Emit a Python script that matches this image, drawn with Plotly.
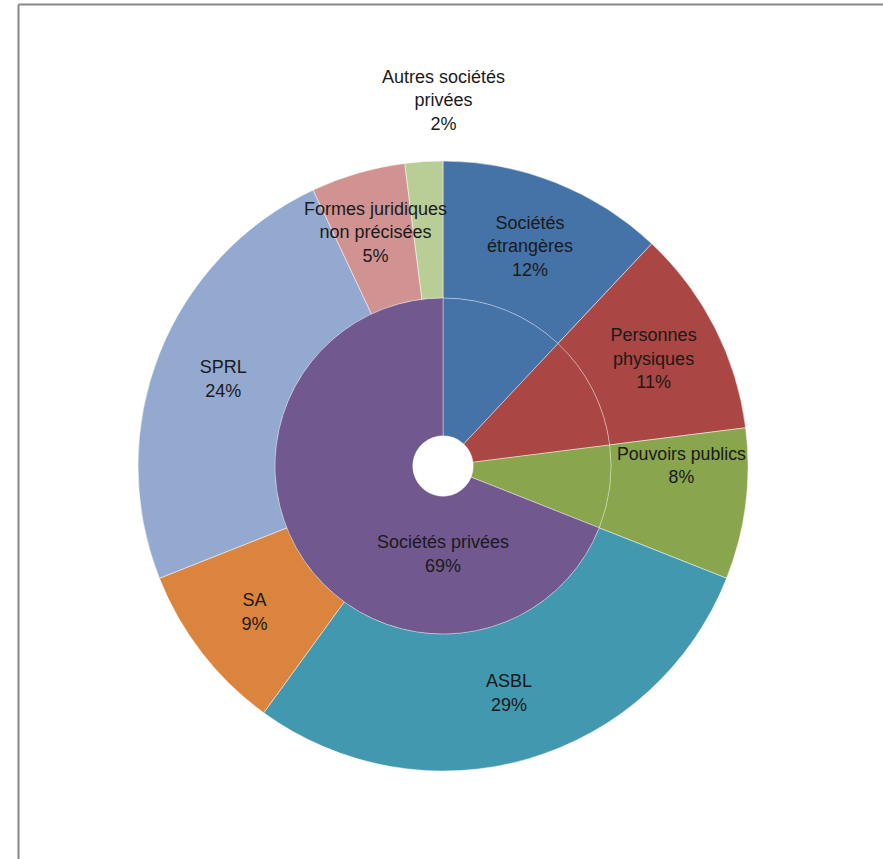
import plotly.graph_objects as go

# Inner ring
inner_labels = ["Sociétés étrangères", "Personnes physiques", "Pouvoirs publics", "Sociétés privées"]
inner_values = [12, 11, 8, 69]
inner_colors = ["#4572A7", "#AA4643", "#89A54E", "#71588F"]

# Outer ring
outer_labels = ["Sociétés étrangères", "Personnes physiques", "Pouvoirs publics", "ASBL", "SA", "SPRL",
                "Formes juridiques non précisées", "Autres sociétés privées"]
outer_display = ["Sociétés<br>étrangères", "Personnes<br>physiques", "Pouvoirs publics", "ASBL", "SA", "SPRL",
                 "Formes juridiques<br>non précisées", "Autres sociétés<br>privées"]
outer_values = [12, 11, 8, 29, 9, 24, 5, 2]
outer_colors = ["#4572A7", "#AA4643", "#89A54E", "#4198AF", "#DB843D", "#93A9CF", "#D19392", "#B9CD96"]

FONT = "Liberation Sans"
FS = 18
TXT = "#1a1a1a"

W, H = 883, 859
cx, cy = 443, 466
R = 305
r_in = 168

def dom(r):
    return dict(x=[(cx - r) / W, (cx + r) / W], y=[1 - (cy + r) / H, 1 - (cy - r) / H])

outer_tmpl = ["%{text}<br>%{percent:.0%}"] * 6 + ["", ""]

fig = go.Figure()
fig.add_trace(go.Pie(
    labels=outer_labels, values=outer_values, text=outer_display,
    texttemplate=outer_tmpl, textinfo="text+percent",
    textposition="inside", insidetextorientation="horizontal",
    sort=False, direction="clockwise", rotation=0, hole=0.55,
    marker=dict(colors=outer_colors, line=dict(color="rgba(255,255,255,0.6)", width=0.8)),
    textfont=dict(family=FONT, size=FS, color=TXT),
    domain=dom(R), showlegend=False, hoverinfo="label+percent",
))
inner_tmpl = ["", "", "", "%{label}<br>%{percent:.0%}"]
fig.add_trace(go.Pie(
    labels=inner_labels, values=inner_values,
    texttemplate=inner_tmpl, textposition="inside", insidetextorientation="horizontal",
    sort=False, direction="clockwise", rotation=0, hole=0.18,
    marker=dict(colors=inner_colors, line=dict(color="rgba(255,255,255,0.5)", width=0.8)),
    textfont=dict(family=FONT, size=FS, color=TXT),
    domain=dom(r_in), showlegend=False, hoverinfo="label+percent",
))

total = sum(outer_values)
annos = []
for idx, (xp, yp) in zip([6, 7], [(375, 232), (443, 101)]):
    annos.append(dict(
        x=xp / W, y=1 - yp / H, xref="paper", yref="paper", showarrow=False,
        xanchor="center", yanchor="middle",
        text=f"{outer_display[idx]}<br>{round(100 * outer_values[idx] / total)}%",
        font=dict(family=FONT, size=FS, color=TXT), align="center",
    ))

fig.update_layout(
    width=W, height=H, margin=dict(l=0, r=0, t=0, b=0),
    paper_bgcolor="white", plot_bgcolor="white",
    annotations=annos,
    shapes=[
        dict(type="line", xref="paper", yref="paper", x0=18.5 / W, x1=1, y0=1 - 4.5 / H, y1=1 - 4.5 / H,
             line=dict(color="#888888", width=2)),
        dict(type="line", xref="paper", yref="paper", x0=18.5 / W, x1=18.5 / W, y0=0, y1=1 - 4.5 / H,
             line=dict(color="#888888", width=2)),
    ],
)
fig.write_html("out.html", config={"displayModeBar": False},
               post_script="document.body.style.margin='0';document.body.style.overflow='hidden';")
